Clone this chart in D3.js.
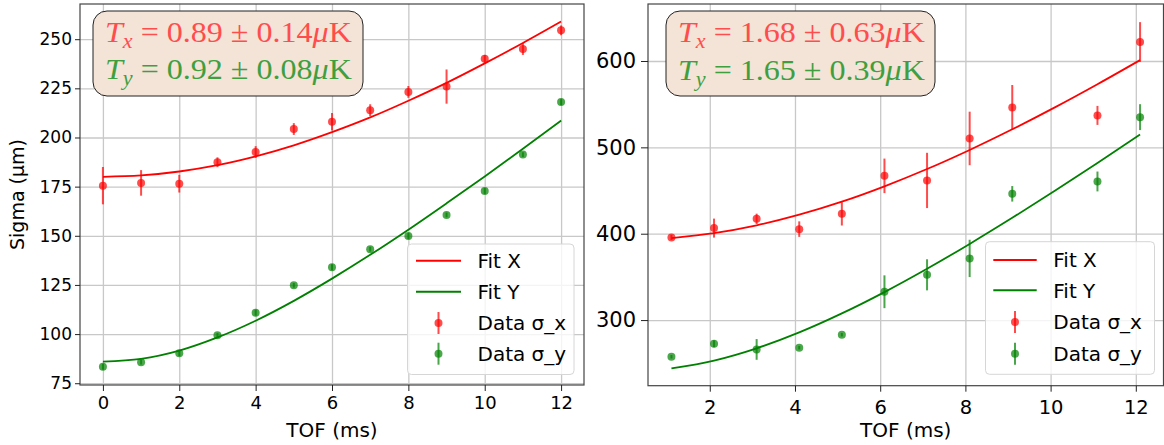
<!DOCTYPE html>
<html>
<head>
<meta charset="utf-8">
<script src="https://cdn.jsdelivr.net/npm/d3@7"></script>
<style>
  body { margin: 0; background: #fff; }
  svg { display: block; }
</style>
</head>
<body>
<div id="chart"></div>
<script>
// ---- data: left panel ----
let tofA = [0, 1, 2, 3, 4, 5, 6, 7, 8, 9, 10, 11, 12];
let sxA = [175.5, 176.9, 176.5, 187.4, 192.6, 204.3, 208.0, 213.9, 223.2, 225.9, 240.0, 245.0, 254.5];
let sxA_err = [9.5, 6.5, 4.5, 2.5, 3, 3, 4.5, 3, 3, 8.7, 2, 3, 2.5];
let syA = [83.4, 85.7, 90.3, 99.4, 110.9, 124.8, 134.0, 143.2, 149.9, 160.6, 172.8, 191.3, 218.0];
let syA_err = [1.5, 1.2, 1.5, 1.2, 1.5, 1.2, 1.5, 1.2, 1.5, 1.2, 1.5, 1.2, 1.5];
let fitxA = [180.0, 180.7, 182.7, 185.9, 190.4, 196.0, 202.7, 210.2, 218.7, 227.8, 237.7, 248.1, 259.0];
let fityA = [86.0, 87.4, 91.6, 98.3, 106.8, 116.9, 128.2, 140.3, 153.1, 166.5, 180.2, 194.3, 208.6];
let xticksA = [0, 2, 4, 6, 8, 10, 12];
let yticksA = [75, 100, 125, 150, 175, 200, 225, 250];

// ---- data: right panel ----
let tofB = [1.1, 2.1, 3.1, 4.1, 5.1, 6.1, 7.1, 8.1, 9.1, 11.1, 12.1];
let sxB = [395.7, 406.5, 417.2, 405.3, 423.0, 467.0, 461.7, 510.3, 546.2, 537.0, 622.0];
let sxB_err = [3, 11, 6, 9, 13.5, 20, 32, 31, 26, 11, 23];
let syB = [257.5, 272.6, 266.0, 268.0, 283.0, 332.8, 352.4, 371.4, 446.2, 460.5, 535.0];
let syB_err = [2, 4, 12, 2, 2, 19, 18, 21.6, 9, 11.5, 15];
let fitTofB = [1.1, 2.1, 3.1, 4.1, 5.1, 6.1, 7.1, 8.1, 9.1, 10.1, 11.1, 12.1];
let fitxB = [395.0, 400.7, 409.7, 422.0, 437.1, 454.9, 474.9, 497.0, 520.9, 546.3, 573.1, 601.0];
let fityB = [244.0, 253.1, 267.3, 285.7, 307.7, 332.4, 359.4, 388.2, 418.4, 449.7, 481.9, 514.9];
let xticksB = [2, 4, 6, 8, 10, 12];
let yticksB = [300, 400, 500, 600];

let legendLabels = ["Fit X", "Fit Y", "Data \u03c3_x", "Data \u03c3_y"];
let tempA = [["x", "0.89", "0.14"], ["y", "0.92", "0.08"]];
let tempB = [["x", "1.68", "0.63"], ["y", "1.65", "0.39"]];

let red = "#ff0000", green = "#008000";
let redText = "#ff4d4d", greenText = "#3f9f3f";

let width = 1164, height = 445;

let svg = d3.select("#chart")
            .append("svg")
            .attr("width", width)
            .attr("height", height);

function draw_panel(p) {
  let x = d3.scaleLinear().domain(p.xdom).range(p.xr);
  let y = d3.scaleLinear().domain(p.ydom).range(p.yr);
  let g = svg.append("g");

  // grid
  g.append("g")
    .attr("transform", "translate(0," + p.yr[0] + ")")
    .call(d3.axisBottom(x).tickValues(p.xticks).tickSize(p.yr[1] - p.yr[0]).tickFormat(""))
    .call(s => s.select(".domain").remove())
    .selectAll("line").attr("stroke", "#c8c8c8").attr("stroke-width", 1.3);
  g.append("g")
    .attr("transform", "translate(" + p.xr[0] + ",0)")
    .call(d3.axisLeft(y).tickValues(p.yticks).tickSize(p.xr[0] - p.xr[1]).tickFormat(""))
    .call(s => s.select(".domain").remove())
    .selectAll("line").attr("stroke", "#c8c8c8").attr("stroke-width", 1.3);

  // fits
  let line = d3.line().curve(d3.curveMonotoneX);
  g.append("path")
    .attr("d", line(p.fitT.map((t, i) => [x(t), y(p.fitX[i])])))
    .attr("fill", "none").attr("stroke", red).attr("stroke-width", 1.8);
  g.append("path")
    .attr("d", line(p.fitT.map((t, i) => [x(t), y(p.fitY[i])])))
    .attr("fill", "none").attr("stroke", green).attr("stroke-width", 1.8);

  // data with error bars
  [[p.sx, p.sxErr, red], [p.sy, p.syErr, green]].forEach(function(s) {
    let vals = s[0], errs = s[1], c = s[2];
    g.append("g").selectAll("line")
      .data(p.t).enter().append("line")
      .attr("x1", d => x(d)).attr("x2", d => x(d))
      .attr("y1", (d, i) => y(vals[i] - errs[i]))
      .attr("y2", (d, i) => y(vals[i] + errs[i]))
      .attr("stroke", c).attr("stroke-width", 2).attr("opacity", 0.7);
    g.append("g").selectAll("circle")
      .data(p.t).enter().append("circle")
      .attr("cx", d => x(d))
      .attr("cy", (d, i) => y(vals[i]))
      .attr("r", 4)
      .attr("fill", c).attr("opacity", 0.7);
  });

  // spines
  g.append("rect")
    .attr("x", p.xr[0]).attr("y", p.yr[1])
    .attr("width", p.xr[1] - p.xr[0]).attr("height", p.yr[0] - p.yr[1])
    .attr("fill", "none").attr("stroke", "#444").attr("stroke-width", 1.2);

  // axes
  g.append("g")
    .attr("transform", "translate(0," + p.yr[0] + ")")
    .call(d3.axisBottom(x).tickValues(p.xticks).tickSize(6).tickPadding(p.xpad))
    .call(s => s.select(".domain").remove())
    .call(s => s.selectAll("line").attr("stroke", "#222"))
    .selectAll("text")
    .style("font-family", "DejaVu Sans").style("font-size", p.xfs + "px").attr("fill", "#000");
  g.append("g")
    .attr("transform", "translate(" + p.xr[0] + ",0)")
    .call(d3.axisLeft(y).tickValues(p.yticks).tickSize(p.ytick).tickPadding(p.ypad))
    .call(s => s.select(".domain").remove())
    .call(s => s.selectAll("line").attr("stroke", "#222"))
    .selectAll("text")
    .style("font-family", "DejaVu Sans").style("font-size", p.yfs + "px").attr("fill", "#000");

  g.append("text")
    .attr("x", (p.xr[0] + p.xr[1]) / 2).attr("y", 437)
    .attr("text-anchor", "middle")
    .style("font-family", "DejaVu Sans").style("font-size", "20px")
    .text("TOF (ms)");

  if (p.ylabel) {
    g.append("text")
      .attr("transform", "translate(24," + ((p.yr[0] + p.yr[1]) / 2) + ") rotate(-90)")
      .attr("text-anchor", "middle")
      .style("font-family", "DejaVu Sans").style("font-size", "19px")
      .text(p.ylabel);
  }

  // temperature box
  g.append("rect")
    .attr("x", p.box[0]).attr("y", 11)
    .attr("width", p.box[1] - p.box[0]).attr("height", 85)
    .attr("rx", 14)
    .attr("fill", "#f4e3d7").attr("stroke", "#222").attr("stroke-width", 1);
  p.temps.forEach(function(tt, i) {
    let txt = g.append("text")
      .style("font-family", "Liberation Serif").style("font-size", "29px")
      .attr("fill", i === 0 ? redText : greenText);
    txt.append("tspan").style("font-style", "italic").text("T");
    txt.append("tspan").style("font-style", "italic").style("font-size", "20px").attr("dy", 6).text(tt[0]);
    txt.append("tspan").attr("dy", -6).text(" = " + tt[1] + " \u00b1 " + tt[2]);
    txt.append("tspan").style("font-style", "italic").text("\u03bc");
    txt.append("tspan").text("K");
    let w = txt.node().getBBox().width;
    let sx = 247 / w;
    txt.attr("transform", "translate(" + (p.box[0] + 12) + "," + p.base[i] + ") scale(" + sx + ",1)");
  });

  // legend
  let L = p.leg;
  g.append("rect")
    .attr("x", L.x0).attr("y", L.y0)
    .attr("width", L.x1 - L.x0).attr("height", L.y1 - L.y0)
    .attr("rx", 4)
    .attr("fill", "#fff").attr("fill-opacity", 0.8)
    .attr("stroke", "#d6d6d6").attr("stroke-width", 1);
  let colors = [red, green, red, green];
  legendLabels.forEach(function(lbl, i) {
    let ry = L.rows[i];
    if (i < 2) {
      g.append("line")
        .attr("x1", L.lx0).attr("x2", L.lx1).attr("y1", ry).attr("y2", ry)
        .attr("stroke", colors[i]).attr("stroke-width", 2);
    } else {
      let cx = (L.lx0 + L.lx1) / 2;
      g.append("line")
        .attr("x1", cx).attr("x2", cx).attr("y1", ry - 11).attr("y2", ry + 11)
        .attr("stroke", colors[i]).attr("stroke-width", 2).attr("opacity", 0.7);
      g.append("circle")
        .attr("cx", cx).attr("cy", ry).attr("r", 4)
        .attr("fill", colors[i]).attr("opacity", 0.7);
    }
    g.append("text")
      .attr("x", L.tx).attr("y", ry + 7.3)
      .style("font-family", "DejaVu Sans").style("font-size", "20px")
      .text(lbl);
  });
}

draw_panel({
  xdom: [-0.6, 12.6], xr: [80, 584],
  ydom: [74.1, 267.9], yr: [385, 4],
  xticks: xticksA, yticks: yticksA,
  t: tofA, sx: sxA, sxErr: sxA_err, sy: syA, syErr: syA_err,
  fitT: tofA, fitX: fitxA, fitY: fityA,
  xfs: 18, yfs: 17, xpad: 5, ypad: 3, ytick: 5,
  ylabel: "Sigma (\u03bcm)",
  box: [93, 363], base: [42, 79], temps: tempA,
  leg: {x0: 407.5, x1: 574, y0: 244, y1: 374.5, lx0: 416, lx1: 461, tx: 477.5,
        rows: [260.7, 291.7, 323, 353.7]}
});

draw_panel({
  xdom: [0.55, 12.65], xr: [648, 1163.5],
  ydom: [224, 666], yr: [385.7, 4],
  xticks: xticksB, yticks: yticksB,
  t: tofB, sx: sxB, sxErr: sxB_err, sy: syB, syErr: syB_err,
  fitT: fitTofB, fitX: fitxB, fitY: fityB,
  xfs: 19.5, yfs: 21, xpad: 8, ypad: 5, ytick: 7,
  ylabel: null,
  box: [666, 935], base: [42, 80], temps: tempB,
  leg: {x0: 985.5, x1: 1154.5, y0: 241.7, y1: 374.3, lx0: 993.3, lx1: 1036.7, tx: 1053.3,
        rows: [260, 290.3, 322, 353.7]}
});
</script>
</body>
</html>
